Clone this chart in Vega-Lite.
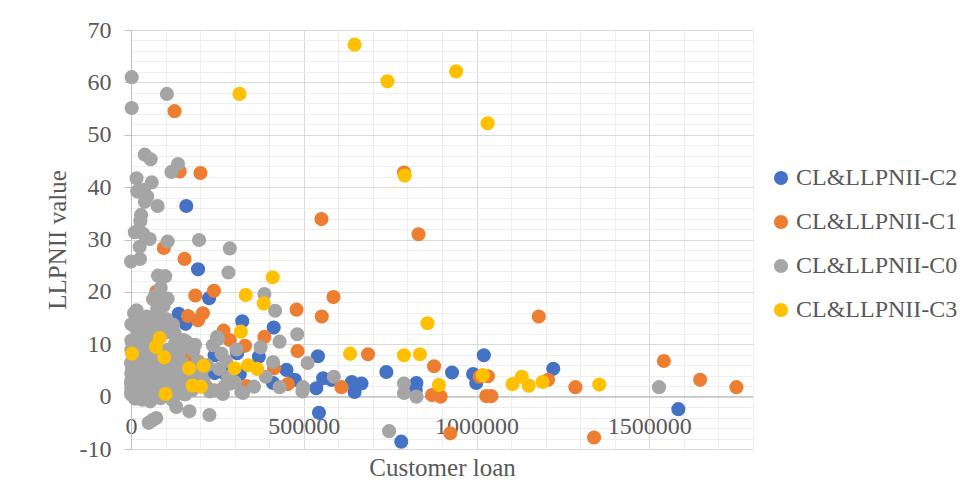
{
  "$schema": "https://vega.github.io/schema/vega-lite/v6.json",
  "width": 622,
  "height": 419,
  "autosize": {"type": "none"},
  "padding": {"left": 131, "top": 30, "right": 214, "bottom": 35},
  "config": {"view": {"stroke": null}, "font": "Liberation Serif"},
  "data": {"values": [
    {"series":"CL&LLPNII-C2","loan":160000,"llpnii":36.4},
    {"series":"CL&LLPNII-C2","loan":194000,"llpnii":24.3},
    {"series":"CL&LLPNII-C2","loan":226000,"llpnii":18.8},
    {"series":"CL&LLPNII-C2","loan":138000,"llpnii":15.8},
    {"series":"CL&LLPNII-C2","loan":158000,"llpnii":13.9},
    {"series":"CL&LLPNII-C2","loan":322000,"llpnii":14.4},
    {"series":"CL&LLPNII-C2","loan":413000,"llpnii":13.2},
    {"series":"CL&LLPNII-C2","loan":242000,"llpnii":7.9},
    {"series":"CL&LLPNII-C2","loan":307000,"llpnii":8.3},
    {"series":"CL&LLPNII-C2","loan":370000,"llpnii":7.6},
    {"series":"CL&LLPNII-C2","loan":168000,"llpnii":6.8},
    {"series":"CL&LLPNII-C2","loan":541000,"llpnii":7.7},
    {"series":"CL&LLPNII-C2","loan":450000,"llpnii":5.1},
    {"series":"CL&LLPNII-C2","loan":474000,"llpnii":3.2},
    {"series":"CL&LLPNII-C2","loan":242000,"llpnii":4.5},
    {"series":"CL&LLPNII-C2","loan":276000,"llpnii":4.1},
    {"series":"CL&LLPNII-C2","loan":315000,"llpnii":4.3},
    {"series":"CL&LLPNII-C2","loan":271000,"llpnii":5.1},
    {"series":"CL&LLPNII-C2","loan":411000,"llpnii":2.6},
    {"series":"CL&LLPNII-C2","loan":536000,"llpnii":1.6},
    {"series":"CL&LLPNII-C2","loan":556000,"llpnii":3.5},
    {"series":"CL&LLPNII-C2","loan":544000,"llpnii":-3.1},
    {"series":"CL&LLPNII-C2","loan":580000,"llpnii":3.2},
    {"series":"CL&LLPNII-C2","loan":639000,"llpnii":2.8},
    {"series":"CL&LLPNII-C2","loan":667000,"llpnii":2.5},
    {"series":"CL&LLPNII-C2","loan":647000,"llpnii":0.9},
    {"series":"CL&LLPNII-C2","loan":739000,"llpnii":4.7},
    {"series":"CL&LLPNII-C2","loan":826000,"llpnii":2.6},
    {"series":"CL&LLPNII-C2","loan":824000,"llpnii":1.2},
    {"series":"CL&LLPNII-C2","loan":929000,"llpnii":4.6},
    {"series":"CL&LLPNII-C2","loan":990000,"llpnii":4.3},
    {"series":"CL&LLPNII-C2","loan":999000,"llpnii":2.6},
    {"series":"CL&LLPNII-C2","loan":1021000,"llpnii":7.9},
    {"series":"CL&LLPNII-C2","loan":782000,"llpnii":-8.6},
    {"series":"CL&LLPNII-C2","loan":1222000,"llpnii":5.3},
    {"series":"CL&LLPNII-C2","loan":1584000,"llpnii":-2.4},
    {"series":"CL&LLPNII-C1","loan":126000,"llpnii":54.5},
    {"series":"CL&LLPNII-C1","loan":141000,"llpnii":43.0},
    {"series":"CL&LLPNII-C1","loan":201000,"llpnii":42.7},
    {"series":"CL&LLPNII-C1","loan":551000,"llpnii":33.9},
    {"series":"CL&LLPNII-C1","loan":832000,"llpnii":31.0},
    {"series":"CL&LLPNII-C1","loan":790000,"llpnii":42.8},
    {"series":"CL&LLPNII-C1","loan":95000,"llpnii":28.4},
    {"series":"CL&LLPNII-C1","loan":155000,"llpnii":26.3},
    {"series":"CL&LLPNII-C1","loan":73000,"llpnii":20.0},
    {"series":"CL&LLPNII-C1","loan":186000,"llpnii":19.3},
    {"series":"CL&LLPNII-C1","loan":240000,"llpnii":20.2},
    {"series":"CL&LLPNII-C1","loan":165000,"llpnii":15.4},
    {"series":"CL&LLPNII-C1","loan":194000,"llpnii":14.6},
    {"series":"CL&LLPNII-C1","loan":208000,"llpnii":15.9},
    {"series":"CL&LLPNII-C1","loan":479000,"llpnii":16.6},
    {"series":"CL&LLPNII-C1","loan":552000,"llpnii":15.3},
    {"series":"CL&LLPNII-C1","loan":586000,"llpnii":19.0},
    {"series":"CL&LLPNII-C1","loan":386000,"llpnii":11.4},
    {"series":"CL&LLPNII-C1","loan":268000,"llpnii":12.6},
    {"series":"CL&LLPNII-C1","loan":286000,"llpnii":10.8},
    {"series":"CL&LLPNII-C1","loan":330000,"llpnii":9.7},
    {"series":"CL&LLPNII-C1","loan":482000,"llpnii":8.7},
    {"series":"CL&LLPNII-C1","loan":414000,"llpnii":5.4},
    {"series":"CL&LLPNII-C1","loan":143000,"llpnii":9.6},
    {"series":"CL&LLPNII-C1","loan":120000,"llpnii":9.0},
    {"series":"CL&LLPNII-C1","loan":165000,"llpnii":7.9},
    {"series":"CL&LLPNII-C1","loan":189000,"llpnii":6.7},
    {"series":"CL&LLPNII-C1","loan":454000,"llpnii":2.4},
    {"series":"CL&LLPNII-C1","loan":335000,"llpnii":2.0},
    {"series":"CL&LLPNII-C1","loan":218000,"llpnii":1.9},
    {"series":"CL&LLPNII-C1","loan":609000,"llpnii":1.8},
    {"series":"CL&LLPNII-C1","loan":686000,"llpnii":8.1},
    {"series":"CL&LLPNII-C1","loan":877000,"llpnii":5.8},
    {"series":"CL&LLPNII-C1","loan":871000,"llpnii":0.3},
    {"series":"CL&LLPNII-C1","loan":896000,"llpnii":0.0},
    {"series":"CL&LLPNII-C1","loan":1028000,"llpnii":0.1},
    {"series":"CL&LLPNII-C1","loan":1043000,"llpnii":0.1},
    {"series":"CL&LLPNII-C1","loan":1009000,"llpnii":3.8},
    {"series":"CL&LLPNII-C1","loan":1033000,"llpnii":3.9},
    {"series":"CL&LLPNII-C1","loan":924000,"llpnii":-7.0},
    {"series":"CL&LLPNII-C1","loan":1180000,"llpnii":15.3},
    {"series":"CL&LLPNII-C1","loan":1207000,"llpnii":3.2},
    {"series":"CL&LLPNII-C1","loan":1286000,"llpnii":1.8},
    {"series":"CL&LLPNII-C1","loan":1340000,"llpnii":-7.8},
    {"series":"CL&LLPNII-C1","loan":1542000,"llpnii":6.8},
    {"series":"CL&LLPNII-C1","loan":1647000,"llpnii":3.2},
    {"series":"CL&LLPNII-C1","loan":1752000,"llpnii":1.8},
    {"series":"CL&LLPNII-C0","loan":2000,"llpnii":61.0},
    {"series":"CL&LLPNII-C0","loan":2000,"llpnii":55.1},
    {"series":"CL&LLPNII-C0","loan":104000,"llpnii":57.8},
    {"series":"CL&LLPNII-C0","loan":40000,"llpnii":46.2},
    {"series":"CL&LLPNII-C0","loan":57000,"llpnii":45.3},
    {"series":"CL&LLPNII-C0","loan":136000,"llpnii":44.4},
    {"series":"CL&LLPNII-C0","loan":117000,"llpnii":42.9},
    {"series":"CL&LLPNII-C0","loan":16000,"llpnii":41.7},
    {"series":"CL&LLPNII-C0","loan":60000,"llpnii":40.9},
    {"series":"CL&LLPNII-C0","loan":18000,"llpnii":39.2},
    {"series":"CL&LLPNII-C0","loan":37000,"llpnii":39.5},
    {"series":"CL&LLPNII-C0","loan":47000,"llpnii":38.2},
    {"series":"CL&LLPNII-C0","loan":40000,"llpnii":37.2},
    {"series":"CL&LLPNII-C0","loan":77000,"llpnii":36.4},
    {"series":"CL&LLPNII-C0","loan":29000,"llpnii":34.7},
    {"series":"CL&LLPNII-C0","loan":27000,"llpnii":33.5},
    {"series":"CL&LLPNII-C0","loan":11000,"llpnii":31.4},
    {"series":"CL&LLPNII-C0","loan":35000,"llpnii":31.1},
    {"series":"CL&LLPNII-C0","loan":54000,"llpnii":30.1},
    {"series":"CL&LLPNII-C0","loan":106000,"llpnii":29.6},
    {"series":"CL&LLPNII-C0","loan":197000,"llpnii":29.9},
    {"series":"CL&LLPNII-C0","loan":286000,"llpnii":28.3},
    {"series":"CL&LLPNII-C0","loan":25000,"llpnii":28.6},
    {"series":"CL&LLPNII-C0","loan":0,"llpnii":25.8},
    {"series":"CL&LLPNII-C0","loan":26000,"llpnii":26.3},
    {"series":"CL&LLPNII-C0","loan":282000,"llpnii":23.7},
    {"series":"CL&LLPNII-C0","loan":78000,"llpnii":23.1},
    {"series":"CL&LLPNII-C0","loan":99000,"llpnii":23.0},
    {"series":"CL&LLPNII-C0","loan":69000,"llpnii":19.2},
    {"series":"CL&LLPNII-C0","loan":80000,"llpnii":19.6},
    {"series":"CL&LLPNII-C0","loan":88000,"llpnii":17.5},
    {"series":"CL&LLPNII-C0","loan":386000,"llpnii":19.6},
    {"series":"CL&LLPNII-C0","loan":417000,"llpnii":16.4},
    {"series":"CL&LLPNII-C0","loan":16000,"llpnii":16.5},
    {"series":"CL&LLPNII-C0","loan":1000,"llpnii":13.8},
    {"series":"CL&LLPNII-C0","loan":73000,"llpnii":14.5},
    {"series":"CL&LLPNII-C0","loan":122000,"llpnii":13.7},
    {"series":"CL&LLPNII-C0","loan":126000,"llpnii":12.1},
    {"series":"CL&LLPNII-C0","loan":20000,"llpnii":11.4},
    {"series":"CL&LLPNII-C0","loan":49000,"llpnii":10.8},
    {"series":"CL&LLPNII-C0","loan":249000,"llpnii":11.4},
    {"series":"CL&LLPNII-C0","loan":237000,"llpnii":9.8},
    {"series":"CL&LLPNII-C0","loan":305000,"llpnii":9.0},
    {"series":"CL&LLPNII-C0","loan":375000,"llpnii":9.4},
    {"series":"CL&LLPNII-C0","loan":430000,"llpnii":10.5},
    {"series":"CL&LLPNII-C0","loan":481000,"llpnii":11.9},
    {"series":"CL&LLPNII-C0","loan":511000,"llpnii":6.4},
    {"series":"CL&LLPNII-C0","loan":411000,"llpnii":6.6},
    {"series":"CL&LLPNII-C0","loan":180000,"llpnii":8.7},
    {"series":"CL&LLPNII-C0","loan":131000,"llpnii":7.9},
    {"series":"CL&LLPNII-C0","loan":204000,"llpnii":4.4},
    {"series":"CL&LLPNII-C0","loan":131000,"llpnii":-2.0},
    {"series":"CL&LLPNII-C0","loan":169000,"llpnii":-2.8},
    {"series":"CL&LLPNII-C0","loan":227000,"llpnii":-3.5},
    {"series":"CL&LLPNII-C0","loan":51000,"llpnii":-5.0},
    {"series":"CL&LLPNII-C0","loan":73000,"llpnii":-4.1},
    {"series":"CL&LLPNII-C0","loan":62000,"llpnii":-4.5},
    {"series":"CL&LLPNII-C0","loan":430000,"llpnii":1.8},
    {"series":"CL&LLPNII-C0","loan":496000,"llpnii":1.0},
    {"series":"CL&LLPNII-C0","loan":498000,"llpnii":1.8},
    {"series":"CL&LLPNII-C0","loan":324000,"llpnii":0.7},
    {"series":"CL&LLPNII-C0","loan":266000,"llpnii":0.5},
    {"series":"CL&LLPNII-C0","loan":300000,"llpnii":2.8},
    {"series":"CL&LLPNII-C0","loan":356000,"llpnii":1.9},
    {"series":"CL&LLPNII-C0","loan":390000,"llpnii":3.8},
    {"series":"CL&LLPNII-C0","loan":228000,"llpnii":1.0},
    {"series":"CL&LLPNII-C0","loan":199000,"llpnii":3.6},
    {"series":"CL&LLPNII-C0","loan":587000,"llpnii":3.8},
    {"series":"CL&LLPNII-C0","loan":790000,"llpnii":2.5},
    {"series":"CL&LLPNII-C0","loan":790000,"llpnii":0.7},
    {"series":"CL&LLPNII-C0","loan":826000,"llpnii":0.0},
    {"series":"CL&LLPNII-C0","loan":747000,"llpnii":-6.6},
    {"series":"CL&LLPNII-C0","loan":1528000,"llpnii":1.8},
    {"series":"CL&LLPNII-C0","loan":319000,"llpnii":0.9},
    {"series":"CL&LLPNII-C0","loan":288000,"llpnii":2.5},
    {"series":"CL&LLPNII-C0","loan":271000,"llpnii":2.0},
    {"series":"CL&LLPNII-C0","loan":0,"llpnii":6.4},
    {"series":"CL&LLPNII-C0","loan":30000,"llpnii":5.7},
    {"series":"CL&LLPNII-C0","loan":59000,"llpnii":3.8},
    {"series":"CL&LLPNII-C0","loan":11000,"llpnii":1.9},
    {"series":"CL&LLPNII-C0","loan":40000,"llpnii":0.6},
    {"series":"CL&LLPNII-C0","loan":78000,"llpnii":1.9},
    {"series":"CL&LLPNII-C0","loan":146000,"llpnii":0.6},
    {"series":"CL&LLPNII-C0","loan":242000,"llpnii":1.2},
    {"series":"CL&LLPNII-C0","loan":281000,"llpnii":3.8},
    {"series":"CL&LLPNII-C0","loan":146000,"llpnii":5.7},
    {"series":"CL&LLPNII-C0","loan":107000,"llpnii":7.6},
    {"series":"CL&LLPNII-C0","loan":0,"llpnii":2.5},
    {"series":"CL&LLPNII-C0","loan":0,"llpnii":0.6},
    {"series":"CL&LLPNII-C0","loan":98000,"llpnii":4.4},
    {"series":"CL&LLPNII-C0","loan":175000,"llpnii":1.2},
    {"series":"CL&LLPNII-C0","loan":252000,"llpnii":11.0},
    {"series":"CL&LLPNII-C0","loan":2000,"llpnii":0.3},
    {"series":"CL&LLPNII-C0","loan":6000,"llpnii":1.1},
    {"series":"CL&LLPNII-C0","loan":9000,"llpnii":2.3},
    {"series":"CL&LLPNII-C0","loan":4000,"llpnii":3.4},
    {"series":"CL&LLPNII-C0","loan":13000,"llpnii":4.6},
    {"series":"CL&LLPNII-C0","loan":3000,"llpnii":5.1},
    {"series":"CL&LLPNII-C0","loan":7000,"llpnii":7.0},
    {"series":"CL&LLPNII-C0","loan":14000,"llpnii":8.3},
    {"series":"CL&LLPNII-C0","loan":5000,"llpnii":9.4},
    {"series":"CL&LLPNII-C0","loan":17000,"llpnii":10.5},
    {"series":"CL&LLPNII-C0","loan":19000,"llpnii":12.3},
    {"series":"CL&LLPNII-C0","loan":21000,"llpnii":0.4},
    {"series":"CL&LLPNII-C0","loan":24000,"llpnii":1.6},
    {"series":"CL&LLPNII-C0","loan":27000,"llpnii":3.1},
    {"series":"CL&LLPNII-C0","loan":29000,"llpnii":4.3},
    {"series":"CL&LLPNII-C0","loan":32000,"llpnii":6.2},
    {"series":"CL&LLPNII-C0","loan":34000,"llpnii":7.4},
    {"series":"CL&LLPNII-C0","loan":37000,"llpnii":8.8},
    {"series":"CL&LLPNII-C0","loan":39000,"llpnii":10.0},
    {"series":"CL&LLPNII-C0","loan":42000,"llpnii":11.5},
    {"series":"CL&LLPNII-C0","loan":44000,"llpnii":2.0},
    {"series":"CL&LLPNII-C0","loan":47000,"llpnii":3.7},
    {"series":"CL&LLPNII-C0","loan":49000,"llpnii":5.2},
    {"series":"CL&LLPNII-C0","loan":51000,"llpnii":6.8},
    {"series":"CL&LLPNII-C0","loan":53000,"llpnii":8.1},
    {"series":"CL&LLPNII-C0","loan":56000,"llpnii":9.2},
    {"series":"CL&LLPNII-C0","loan":59000,"llpnii":0.9},
    {"series":"CL&LLPNII-C0","loan":61000,"llpnii":2.8},
    {"series":"CL&LLPNII-C0","loan":63000,"llpnii":4.9},
    {"series":"CL&LLPNII-C0","loan":66000,"llpnii":6.4},
    {"series":"CL&LLPNII-C0","loan":69000,"llpnii":7.7},
    {"series":"CL&LLPNII-C0","loan":71000,"llpnii":9.9},
    {"series":"CL&LLPNII-C0","loan":74000,"llpnii":1.2},
    {"series":"CL&LLPNII-C0","loan":76000,"llpnii":3.0},
    {"series":"CL&LLPNII-C0","loan":79000,"llpnii":5.6},
    {"series":"CL&LLPNII-C0","loan":82000,"llpnii":7.2},
    {"series":"CL&LLPNII-C0","loan":86000,"llpnii":8.6},
    {"series":"CL&LLPNII-C0","loan":89000,"llpnii":11.8},
    {"series":"CL&LLPNII-C0","loan":92000,"llpnii":0.5},
    {"series":"CL&LLPNII-C0","loan":95000,"llpnii":2.5},
    {"series":"CL&LLPNII-C0","loan":99000,"llpnii":3.9},
    {"series":"CL&LLPNII-C0","loan":103000,"llpnii":6.1},
    {"series":"CL&LLPNII-C0","loan":108000,"llpnii":9.0},
    {"series":"CL&LLPNII-C0","loan":112000,"llpnii":1.6},
    {"series":"CL&LLPNII-C0","loan":116000,"llpnii":3.3},
    {"series":"CL&LLPNII-C0","loan":119000,"llpnii":5.1},
    {"series":"CL&LLPNII-C0","loan":124000,"llpnii":7.0},
    {"series":"CL&LLPNII-C0","loan":128000,"llpnii":10.2},
    {"series":"CL&LLPNII-C0","loan":133000,"llpnii":1.0},
    {"series":"CL&LLPNII-C0","loan":137000,"llpnii":2.6},
    {"series":"CL&LLPNII-C0","loan":141000,"llpnii":4.2},
    {"series":"CL&LLPNII-C0","loan":147000,"llpnii":6.6},
    {"series":"CL&LLPNII-C0","loan":152000,"llpnii":10.8},
    {"series":"CL&LLPNII-C0","loan":157000,"llpnii":0.4},
    {"series":"CL&LLPNII-C0","loan":162000,"llpnii":2.1},
    {"series":"CL&LLPNII-C0","loan":167000,"llpnii":3.8},
    {"series":"CL&LLPNII-C0","loan":172000,"llpnii":5.5},
    {"series":"CL&LLPNII-C0","loan":178000,"llpnii":1.3},
    {"series":"CL&LLPNII-C0","loan":15000,"llpnii":13.1},
    {"series":"CL&LLPNII-C0","loan":27000,"llpnii":12.7},
    {"series":"CL&LLPNII-C0","loan":36000,"llpnii":14.6},
    {"series":"CL&LLPNII-C0","loan":9000,"llpnii":15.9},
    {"series":"CL&LLPNII-C0","loan":46000,"llpnii":15.3},
    {"series":"CL&LLPNII-C0","loan":61000,"llpnii":12.9},
    {"series":"CL&LLPNII-C0","loan":84000,"llpnii":13.6},
    {"series":"CL&LLPNII-C0","loan":1000,"llpnii":1.4},
    {"series":"CL&LLPNII-C0","loan":1000,"llpnii":3.1},
    {"series":"CL&LLPNII-C0","loan":1000,"llpnii":4.4},
    {"series":"CL&LLPNII-C0","loan":1000,"llpnii":8.9},
    {"series":"CL&LLPNII-C0","loan":1000,"llpnii":10.7},
    {"series":"CL&LLPNII-C0","loan":12000,"llpnii":-0.4},
    {"series":"CL&LLPNII-C0","loan":33000,"llpnii":-0.6},
    {"series":"CL&LLPNII-C0","loan":56000,"llpnii":-0.9},
    {"series":"CL&LLPNII-C0","loan":86000,"llpnii":-0.3},
    {"series":"CL&LLPNII-C0","loan":121000,"llpnii":-0.7},
    {"series":"CL&LLPNII-C0","loan":102000,"llpnii":14.8},
    {"series":"CL&LLPNII-C0","loan":111000,"llpnii":12.3},
    {"series":"CL&LLPNII-C0","loan":94000,"llpnii":17.3},
    {"series":"CL&LLPNII-C0","loan":64000,"llpnii":18.6},
    {"series":"CL&LLPNII-C0","loan":86000,"llpnii":20.8},
    {"series":"CL&LLPNII-C0","loan":106000,"llpnii":18.7},
    {"series":"CL&LLPNII-C0","loan":76000,"llpnii":16.7},
    {"series":"CL&LLPNII-C0","loan":22000,"llpnii":6.8},
    {"series":"CL&LLPNII-C0","loan":45000,"llpnii":1.0},
    {"series":"CL&LLPNII-C0","loan":67000,"llpnii":2.0},
    {"series":"CL&LLPNII-C0","loan":90000,"llpnii":6.0},
    {"series":"CL&LLPNII-C0","loan":115000,"llpnii":8.3},
    {"series":"CL&LLPNII-C0","loan":140000,"llpnii":8.8},
    {"series":"CL&LLPNII-C0","loan":160000,"llpnii":10.5},
    {"series":"CL&LLPNII-C0","loan":185000,"llpnii":9.9},
    {"series":"CL&LLPNII-C0","loan":195000,"llpnii":6.7},
    {"series":"CL&LLPNII-C0","loan":210000,"llpnii":3.0},
    {"series":"CL&LLPNII-C0","loan":220000,"llpnii":6.0},
    {"series":"CL&LLPNII-C0","loan":255000,"llpnii":5.3},
    {"series":"CL&LLPNII-C0","loan":262000,"llpnii":8.2},
    {"series":"CL&LLPNII-C0","loan":275000,"llpnii":6.8},
    {"series":"CL&LLPNII-C3","loan":647000,"llpnii":67.2},
    {"series":"CL&LLPNII-C3","loan":314000,"llpnii":57.8},
    {"series":"CL&LLPNII-C3","loan":742000,"llpnii":60.2},
    {"series":"CL&LLPNII-C3","loan":941000,"llpnii":62.1},
    {"series":"CL&LLPNII-C3","loan":1032000,"llpnii":52.2},
    {"series":"CL&LLPNII-C3","loan":792000,"llpnii":42.2},
    {"series":"CL&LLPNII-C3","loan":858000,"llpnii":14.0},
    {"series":"CL&LLPNII-C3","loan":634000,"llpnii":8.2},
    {"series":"CL&LLPNII-C3","loan":790000,"llpnii":7.9},
    {"series":"CL&LLPNII-C3","loan":836000,"llpnii":8.1},
    {"series":"CL&LLPNII-C3","loan":891000,"llpnii":2.2},
    {"series":"CL&LLPNII-C3","loan":1018000,"llpnii":4.1},
    {"series":"CL&LLPNII-C3","loan":1104000,"llpnii":2.4},
    {"series":"CL&LLPNII-C3","loan":1131000,"llpnii":3.8},
    {"series":"CL&LLPNII-C3","loan":1151000,"llpnii":2.1},
    {"series":"CL&LLPNII-C3","loan":1191000,"llpnii":2.8},
    {"series":"CL&LLPNII-C3","loan":1355000,"llpnii":2.3},
    {"series":"CL&LLPNII-C3","loan":3000,"llpnii":8.2},
    {"series":"CL&LLPNII-C3","loan":83000,"llpnii":11.2},
    {"series":"CL&LLPNII-C3","loan":72000,"llpnii":9.5},
    {"series":"CL&LLPNII-C3","loan":96000,"llpnii":7.5},
    {"series":"CL&LLPNII-C3","loan":100000,"llpnii":0.5},
    {"series":"CL&LLPNII-C3","loan":168000,"llpnii":5.4},
    {"series":"CL&LLPNII-C3","loan":178000,"llpnii":2.1},
    {"series":"CL&LLPNII-C3","loan":202000,"llpnii":1.9},
    {"series":"CL&LLPNII-C3","loan":210000,"llpnii":5.9},
    {"series":"CL&LLPNII-C3","loan":332000,"llpnii":19.4},
    {"series":"CL&LLPNII-C3","loan":318000,"llpnii":12.4},
    {"series":"CL&LLPNII-C3","loan":300000,"llpnii":5.4},
    {"series":"CL&LLPNII-C3","loan":339000,"llpnii":6.0},
    {"series":"CL&LLPNII-C3","loan":365000,"llpnii":5.3},
    {"series":"CL&LLPNII-C3","loan":384000,"llpnii":17.8},
    {"series":"CL&LLPNII-C3","loan":410000,"llpnii":22.8}
  ]},
  "layer": [
    {
      "mark": {"type": "point", "opacity": 0},
      "encoding": {
        "x": {"field": "loan", "type": "quantitative",
          "scale": {"domain": [0, 1800000], "nice": false, "zero": false},
          "axis": {"orient": "bottom", "values": [0,100000,200000,300000,400000,500000,600000,700000,800000,900000,1000000,1100000,1200000,1300000,1400000,1500000,1600000,1700000,1800000],
            "grid": true, "gridColor": "#EEEEEE", "gridWidth": 1, "labels": false, "ticks": false, "domain": false, "title": null}},
        "y": {"field": "llpnii", "type": "quantitative",
          "scale": {"domain": [-10, 70], "nice": false, "zero": false},
          "axis": {"orient": "left", "values": [-10,-8,-6,-4,-2,0,2,4,6,8,10,12,14,16,18,20,22,24,26,28,30,32,34,36,38,40,42,44,46,48,50,52,54,56,58,60,62,64,66,68,70],
            "grid": true, "gridColor": "#EEEEEE", "gridWidth": 1, "labels": false, "ticks": false, "domain": false, "title": null}}
      }
    },
    {
      "data": {"values": [{}]},
      "mark": {"type": "rule", "color": "#BFBFBF", "strokeWidth": 1},
      "encoding": {"y": {"datum": 0, "type": "quantitative", "axis": null}}
    },
    {
      "mark": {"type": "point", "filled": true, "shape": "circle", "size": 200, "opacity": 1},
      "encoding": {
        "x": {"field": "loan", "type": "quantitative",
          "axis": {"orient": "bottom", "values": [0, 500000, 1000000, 1500000], "format": "d",
            "grid": true, "gridColor": "#D9D9D9", "gridWidth": 1, "ticks": false, "domain": false,
            "labelFont": "Liberation Serif", "labelFontSize": 24, "labelColor": "#595959", "labelFlush": false, "labelOverlap": false,
            "labelBaseline": "alphabetic", "labelPadding": -16,
            "title": "Customer loan", "titleFont": "Liberation Serif", "titleFontSize": 25, "titleFontWeight": "normal", "titleColor": "#595959",
            "titleBaseline": "alphabetic", "titleY": 26}},
        "y": {"field": "llpnii", "type": "quantitative",
          "axis": {"orient": "left", "values": [-10, 0, 10, 20, 30, 40, 50, 60, 70],
            "labelExpr": "datum.value < 0 ? '-' + abs(datum.value) : '' + datum.value",
            "grid": true, "gridColor": "#D9D9D9", "gridWidth": 1,
            "domain": true, "domainColor": "#BFBFBF", "ticks": true, "tickColor": "#BFBFBF", "tickSize": 7,
            "labelFont": "Liberation Serif", "labelFontSize": 24, "labelColor": "#595959", "labelPadding": 13,
            "title": "LLPNII value", "titleFont": "Liberation Serif", "titleFontSize": 25, "titleFontWeight": "normal", "titleColor": "#595959",
            "titleAngle": 270, "titleBaseline": "alphabetic", "titleAlign": "center", "titleX": -66, "titleY": 209.5}},
        "color": {"field": "series", "type": "nominal",
          "scale": {"domain": ["CL&LLPNII-C2", "CL&LLPNII-C1", "CL&LLPNII-C0", "CL&LLPNII-C3"],
                    "range": ["#4472C4", "#ED7D31", "#A5A5A5", "#FFC000"]},
          "legend": {"orient": "none", "legendX": 638, "legendY": 136, "title": null, "padding": 0,
            "labelFont": "Liberation Serif", "labelFontSize": 24, "labelColor": "#595959", "labelOffset": 3, "labelLimit": 300,
            "symbolType": "circle", "symbolSize": 200, "symbolStrokeWidth": 0, "rowPadding": 20}}
      }
    }
  ],
  "resolve": {"axis": {"x": "independent", "y": "independent"}}
}
